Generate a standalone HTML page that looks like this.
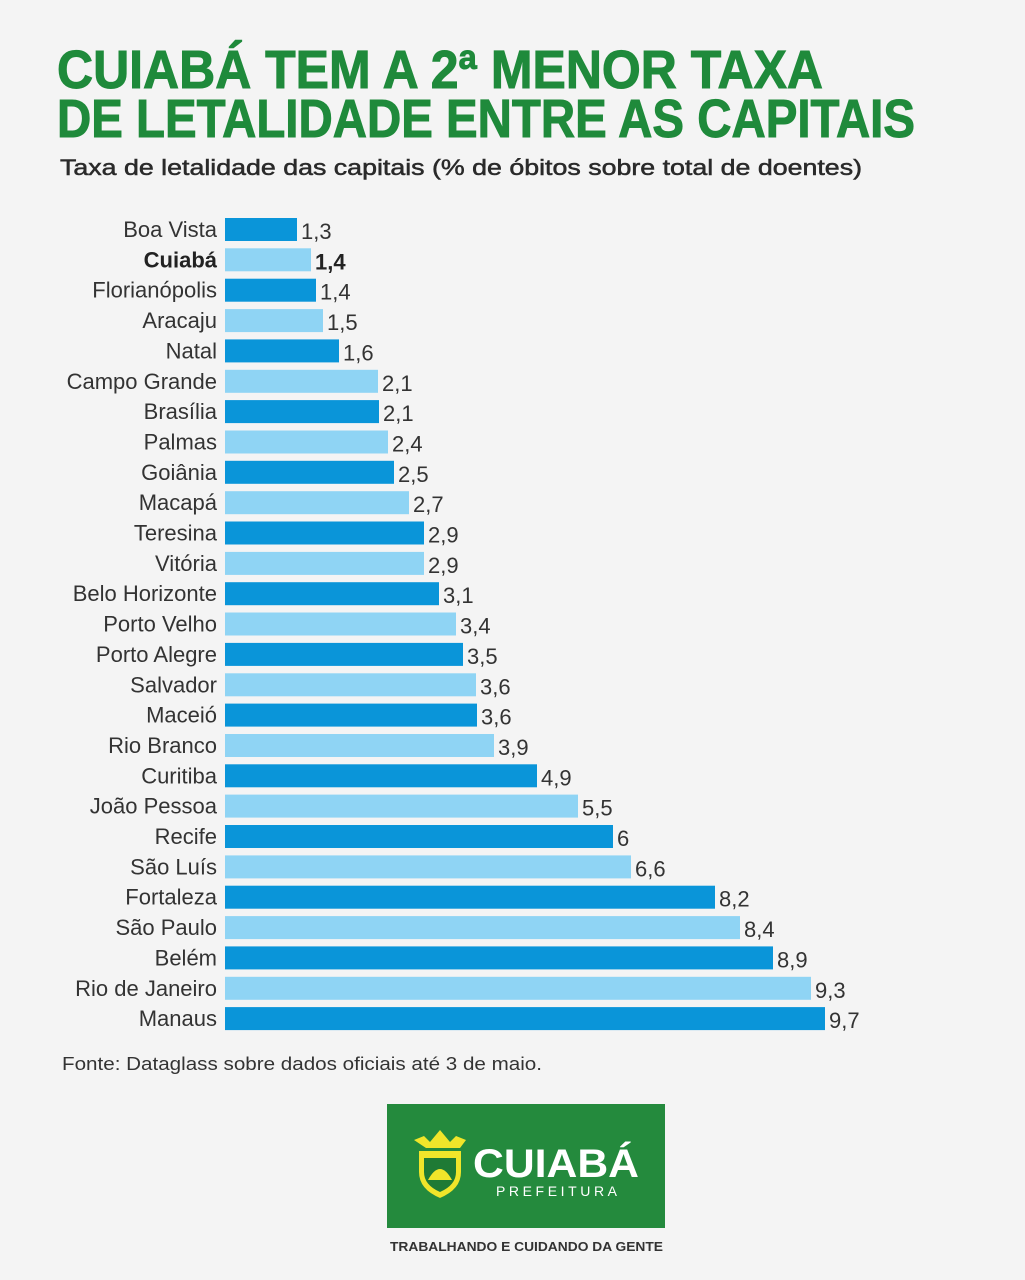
<!DOCTYPE html>
<html><head><meta charset="utf-8"><style>
html,body{margin:0;padding:0;background:#f4f4f4;}
svg{display:block}
text{font-family:"Liberation Sans",sans-serif}
</style></head><body>
<svg width="1025" height="1280" viewBox="0 0 1025 1280" xmlns="http://www.w3.org/2000/svg">
<rect width="1025" height="1280" fill="#f4f4f4"/>
<text x="57" y="88" font-size="54" font-weight="bold" fill="#1f8a3b" stroke="#1f8a3b" stroke-width="1" textLength="766" lengthAdjust="spacingAndGlyphs">CUIABÁ TEM A 2ª MENOR TAXA</text>
<text x="57" y="137" font-size="54" font-weight="bold" fill="#1f8a3b" stroke="#1f8a3b" stroke-width="1" textLength="858" lengthAdjust="spacingAndGlyphs">DE LETALIDADE ENTRE AS CAPITAIS</text>
<text x="60" y="175" font-size="22" fill="#2a2a2a" stroke="#2a2a2a" stroke-width="0.5" textLength="802" lengthAdjust="spacingAndGlyphs">Taxa de letalidade das capitais (% de óbitos sobre total de doentes)</text>
<g id="bars" font-size="22" fill="#333"></g>
<text x="62" y="1070" font-size="18" fill="#333" textLength="480" lengthAdjust="spacingAndGlyphs">Fonte: Dataglass sobre dados oficiais até 3 de maio.</text>
<rect x="387" y="1104" width="278" height="124" fill="#248a3d"/>
<path d="M418 1150 h44 v22 q0 18 -22 27 q-22 -9 -22 -27z" fill="#f0e52a" stroke="#248a3d" stroke-width="2"/>
<path d="M424 1158 h32 v14 q0 13 -16 20 q-16 -7 -16 -20z" fill="#1f7a35"/>
<path d="M428 1180 q12 -22 24 0z" fill="#f0e52a"/>
<path d="M414 1140 l10 -4 l6 6 l10 -12 l10 12 l6 -6 l10 4 l-6 8 h-34z" fill="#f0e52a"/>
<text x="473" y="1177" font-size="40" font-weight="bold" fill="#fff" textLength="166" lengthAdjust="spacingAndGlyphs">CUIABÁ</text>
<text x="496" y="1196" font-size="14" fill="#fff" letter-spacing="3" textLength="124" lengthAdjust="spacing">PREFEITURA</text>
<text x="390" y="1251" font-size="13" font-weight="bold" fill="#333" textLength="273" lengthAdjust="spacingAndGlyphs">TRABALHANDO E CUIDANDO DA GENTE</text>
</svg>
<script>
var d=[["Boa Vista","1,3",297],["Cuiabá","1,4",311],["Florianópolis","1,4",316],["Aracaju","1,5",323],["Natal","1,6",339],["Campo Grande","2,1",378],["Brasília","2,1",379],["Palmas","2,4",388],["Goiânia","2,5",394],["Macapá","2,7",409],["Teresina","2,9",424],["Vitória","2,9",424],["Belo Horizonte","3,1",439],["Porto Velho","3,4",456],["Porto Alegre","3,5",463],["Salvador","3,6",476],["Maceió","3,6",477],["Rio Branco","3,9",494],["Curitiba","4,9",537],["João Pessoa","5,5",578],["Recife","6",613],["São Luís","6,6",631],["Fortaleza","8,2",715],["São Paulo","8,4",740],["Belém","8,9",773],["Rio de Janeiro","9,3",811],["Manaus","9,7",825]];
var g=document.getElementById("bars"),s="";
d.forEach(function(r,i){var y=218+i*30.35;var c=i%2?"#8fd4f4":"#0a95d9";var b=i==1?' font-weight="bold" fill="#222"':'';
s+='<rect x="225" y="'+y.toFixed(1)+'" width="'+(r[2]-225)+'" height="23" fill="'+c+'"/>';
s+='<text x="217" y="'+(y+19).toFixed(1)+'" text-anchor="end"'+b+'>'+r[0]+'</text>';
s+='<text x="'+(r[2]+4)+'" y="'+(y+21).toFixed(1)+'"'+b+'>'+r[1]+'</text>';});
g.innerHTML=s;
</script>
</body></html>
